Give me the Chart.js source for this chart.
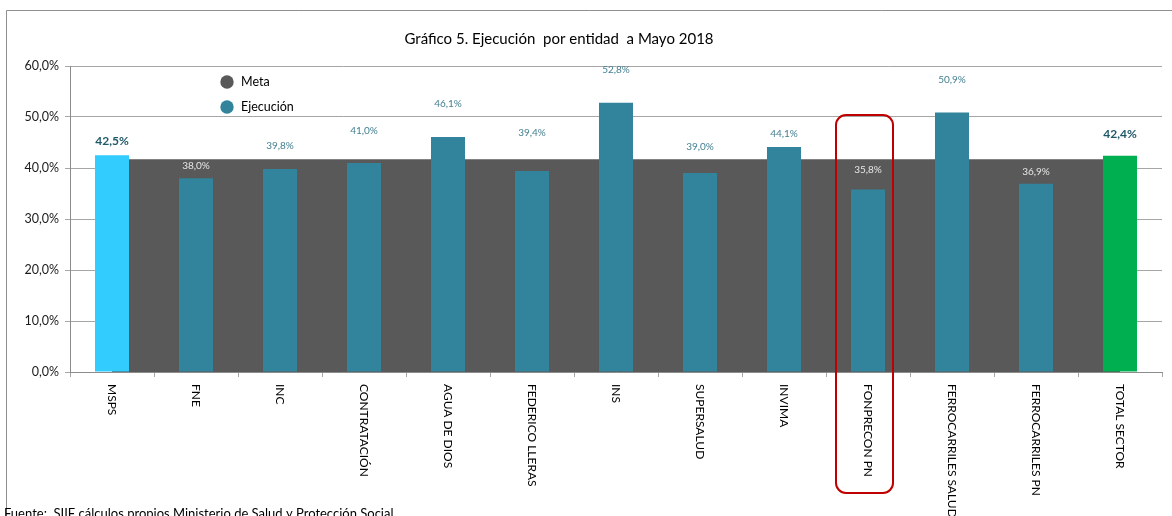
<!DOCTYPE html>
<html>
<head>
<meta charset="utf-8">
<script src="https://cdn.jsdelivr.net/npm/chart.js@4.4.0/dist/chart.umd.min.js"></script>
<style>
html,body{margin:0;padding:0;background:#fff;overflow:hidden}
#wrap{position:relative;width:1172px;height:516px}
</style>
</head>
<body>
<div id="wrap"><canvas id="c" width="1172" height="516"></canvas></div>
<script>
// ---------- DATA ----------
const categories = ['MSPS','FNE','INC','CONTRATACIÓN','AGUA DE DIOS','FEDERICO LLERAS','INS','SUPERSALUD','INVIMA','FONPRECON PN','FERROCARRILES SALUD','FERROCARRILES PN','TOTAL SECTOR'];
const ejecucion = [42.5, 38.0, 39.8, 41.0, 46.1, 39.4, 52.8, 39.0, 44.1, 35.8, 50.9, 36.9, 42.4];
const meta = [41.7, 41.7, 41.7, 41.7, 41.7, 41.7, 41.7, 41.7, 41.7, 41.7, 41.7, 41.7, 41.7];
const yTickValues = [0, 10, 20, 30, 40, 50, 60];
const titleText = 'Gráfico 5. Ejecución  por entidad  a Mayo 2018';
const sourceText = 'Fuente:  SIIF cálculos propios Ministerio de Salud y Protección Social';
const seriesNames = ['Meta', 'Ejecución'];

// ---------- STYLE ----------
const FONT = 'Lato, "Open Sans", "DejaVu Sans", sans-serif';
const style = {
  teal: '#31849B', cyan: '#33CCFF', green: '#00B050', metaGray: '#595959',
  grid: '#a6a6a6', axis: '#8c8c8c',
  labelLift: [14, 12, 23, 32, 33, 38, 33, 26, 13, 20, 33, 12, 22], // px above bar top
  highlightedBox: 9
};
const barColors = categories.map((c, i) => i === 0 ? style.cyan : (i === categories.length - 1 ? style.green : style.teal));
const fmt = v => v.toFixed(1).replace('.', ',') + '%';

const deco = {
  id: 'deco',
  beforeDraw(chart) {
    const ctx = chart.ctx;
    ctx.save();
    ctx.fillStyle = '#fff';
    ctx.fillRect(0, 0, chart.width, chart.height);
    ctx.strokeStyle = '#8f8f8f';
    ctx.lineWidth = 1;
    ctx.beginPath();
    ctx.moveTo(6.5, chart.height + 2);
    ctx.lineTo(6.5, 10.5);
    ctx.lineTo(chart.width + 2, 10.5);
    ctx.stroke();
    // title
    ctx.fillStyle = '#000';
    ctx.font = '15px ' + FONT;
    ctx.textAlign = 'center';
    ctx.textBaseline = 'middle';
    ctx.fillText(titleText, 559, 39);
    ctx.restore();
  },
  afterDatasetsDraw(chart) {
    const ctx = chart.ctx;
    const yS = chart.scales.y, xS = chart.scales.x;
    const barMeta = chart.getDatasetMeta(1);
    const metaPix = yS.getPixelForValue(meta[0]);
    ctx.save();
    ctx.textAlign = 'center';
    ctx.textBaseline = 'middle';
    barMeta.data.forEach((el, i) => {
      const ly = el.y - style.labelLift[i];
      const hl = (i === 0 || i === categories.length - 1);
      if (hl) {
        ctx.font = 'bold 12px ' + FONT;
        ctx.fillStyle = '#215968';
      } else {
        ctx.font = '10px ' + FONT;
        ctx.fillStyle = ly > metaPix ? '#e6e6e6' : '#437f90';
      }
      ctx.fillText(fmt(ejecucion[i]), el.x, ly);
    });
    // red highlight box
    const cx = xS.getPixelForValue(style.highlightedBox);
    ctx.strokeStyle = '#c00000';
    ctx.lineWidth = 2;
    ctx.beginPath();
    ctx.roundRect(cx - 32, 115, 57, 378, 10);
    ctx.stroke();
    ctx.restore();
  },
  afterDraw(chart) {
    const ctx = chart.ctx;
    const xS = chart.scales.x;
    ctx.save();
    // x category labels rotated clockwise
    ctx.fillStyle = '#000';
    ctx.font = '12px ' + FONT;
    ctx.textAlign = 'left';
    ctx.textBaseline = 'middle';
    categories.forEach((c, i) => {
      const px = xS.getPixelForValue(i);
      ctx.save();
      ctx.translate(px, 384);
      ctx.rotate(Math.PI / 2);
      ctx.fillText(c, 0, 0);
      ctx.restore();
    });
    // legend
    const items = [[seriesNames[0], style.metaGray, 82], [seriesNames[1], style.teal, 107]];
    items.forEach(([t, col, yy]) => {
      ctx.fillStyle = col;
      ctx.beginPath();
      ctx.arc(227, yy, 6.7, 0, Math.PI * 2);
      ctx.fill();
      ctx.fillStyle = '#000';
      ctx.font = '12.5px ' + FONT;
      ctx.textAlign = 'left';
      ctx.textBaseline = 'middle';
      ctx.fillText(t, 241, yy);
    });
    // source
    ctx.font = '13px ' + FONT;
    ctx.textBaseline = 'alphabetic';
    ctx.fillText(sourceText, 4, 518);
    ctx.restore();
  }
};

new Chart(document.getElementById('c'), {
  type: 'bar',
  data: {
    labels: categories,
    datasets: [
      {
        type: 'line', label: seriesNames[0], data: meta, order: 2,
        borderWidth: 0, borderColor: style.metaGray, backgroundColor: style.metaGray,
        pointRadius: 0, fill: 'origin', tension: 0
      },
      {
        type: 'bar', label: seriesNames[1], data: ejecucion, order: 1,
        backgroundColor: barColors, borderWidth: 0,
        barPercentage: 0.405, categoryPercentage: 1.0
      }
    ]
  },
  options: {
    responsive: false,
    animation: false,
    devicePixelRatio: 1,
    layout: { padding: { left: 0, right: 10, top: 66, bottom: 0 } },
    plugins: { legend: { display: false }, tooltip: { enabled: false }, title: { display: false } },
    scales: {
      x: {
        offset: true,
        grid: { offset: true, drawOnChartArea: false, drawTicks: true, tickLength: 5, color: style.grid },
        border: { color: style.axis },
        ticks: { display: false },
        afterFit(s) { s.height = 144; }
      },
      y: {
        min: 0, max: 60,
        afterBuildTicks(s) { s.ticks = yTickValues.map(v => ({ value: v })); },
        ticks: { callback: v => fmt(v), font: { family: FONT, size: 12.5 }, color: '#1a1a1a', padding: 6 },
        grid: { color: style.grid, tickLength: 5 },
        border: { color: style.axis },
        afterFit(s) { s.width = 70; }
      }
    }
  },
  plugins: [deco]
});
</script>
</body>
</html>
